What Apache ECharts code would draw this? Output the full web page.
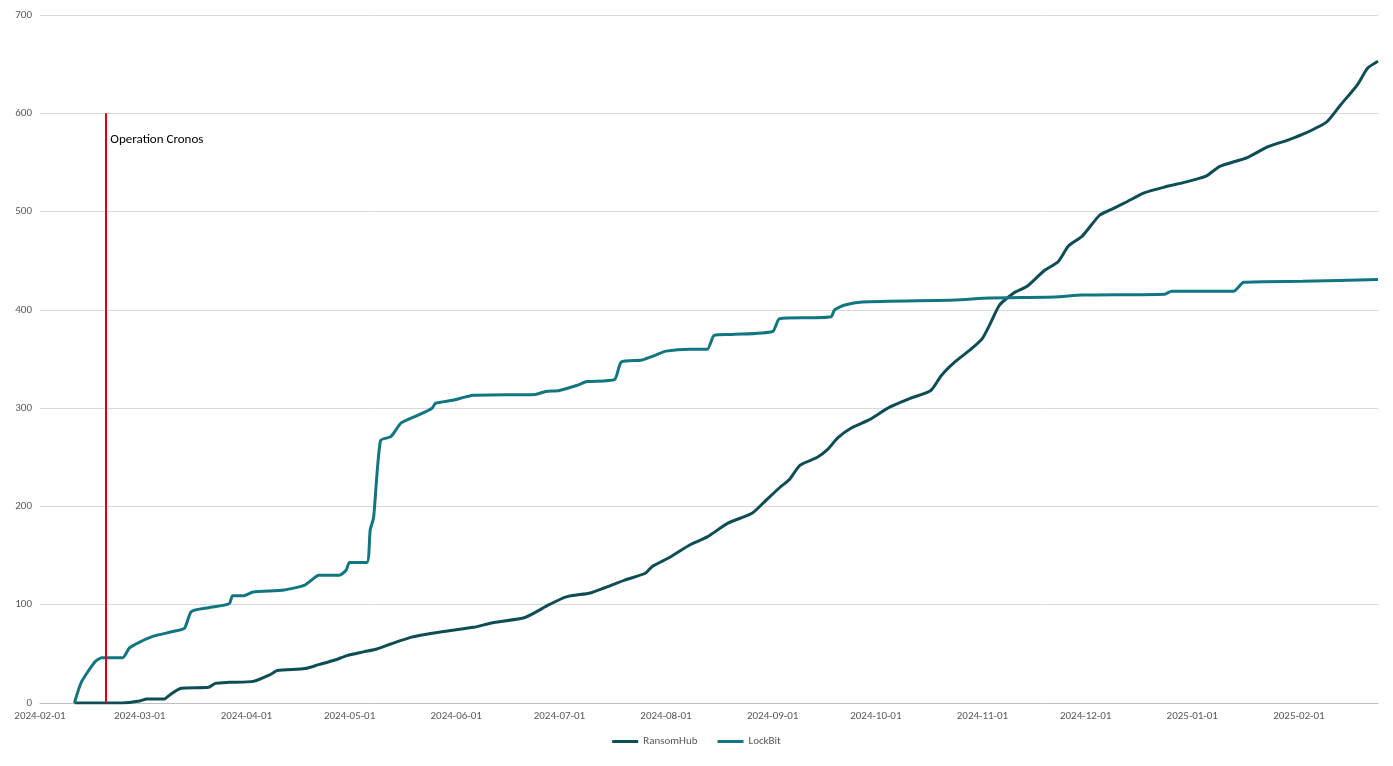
<!DOCTYPE html>
<html>
<head>
<meta charset="utf-8">
<script src="https://cdn.jsdelivr.net/npm/echarts@6/dist/echarts.min.js"></script>
<style>html,body{margin:0;padding:0;background:#fff}#chart{width:1393px;height:766px}</style>
</head>
<body>
<div id="chart"></div>
<script>
// cumulative victim counts
const ransomHubDates = ['2024-02-11','2024-02-25','2024-03-01','2024-03-03','2024-03-08','2024-03-10','2024-03-13','2024-03-21','2024-03-23','2024-03-27','2024-04-03','2024-04-08','2024-04-10','2024-04-18','2024-04-22','2024-04-27','2024-04-30','2024-05-05','2024-05-09','2024-05-13','2024-05-19','2024-05-25','2024-05-31','2024-06-06','2024-06-12','2024-06-21','2024-06-28','2024-07-03','2024-07-10','2024-07-14','2024-07-20','2024-07-26','2024-07-28','2024-08-02','2024-08-08','2024-08-13','2024-08-19','2024-08-26','2024-08-30','2024-09-03','2024-09-06','2024-09-09','2024-09-14','2024-09-17','2024-09-20','2024-09-24','2024-09-29','2024-10-05','2024-10-11','2024-10-17','2024-10-20','2024-10-24','2024-10-29','2024-11-01','2024-11-03','2024-11-06','2024-11-10','2024-11-14','2024-11-19','2024-11-23','2024-11-26','2024-11-30','2024-12-05','2024-12-09','2024-12-13','2024-12-18','2024-12-24','2024-12-30','2025-01-05','2025-01-09','2025-01-17','2025-01-23','2025-01-29','2025-02-03','2025-02-09','2025-02-13','2025-02-18','2025-02-21','2025-02-24'];
const ransomHubValues = [0,0,2,4,4,9,15,16,20,21,22,29,33,35,39,44,48,52,55,60,67,71,74,77,82,87,100,108,112,117,125,132,139,148,161,169,183,193,206,219,228,242,250,258,270,280,288,301,310,318,333,347,361,371,384,405,417,424,440,449,465,475,496,503,510,519,525,530,536,546,555,566,573,580,591,608,629,646,653];

const lockBitDates = ['2024-02-11','2024-02-13','2024-02-17','2024-02-19','2024-02-25','2024-02-27','2024-03-01','2024-03-05','2024-03-11','2024-03-14','2024-03-16','2024-03-21','2024-03-27','2024-03-28','2024-03-31','2024-04-03','2024-04-12','2024-04-18','2024-04-21','2024-04-22','2024-04-28','2024-04-30','2024-05-01','2024-05-06','2024-05-07','2024-05-08','2024-05-10','2024-05-13','2024-05-16','2024-05-21','2024-05-25','2024-05-26','2024-05-31','2024-06-06','2024-06-24','2024-06-27','2024-07-01','2024-07-06','2024-07-09','2024-07-17','2024-07-19','2024-07-25','2024-07-29','2024-08-01','2024-08-08','2024-08-13','2024-08-15','2024-08-20','2024-09-01','2024-09-03','2024-09-12','2024-09-18','2024-09-19','2024-09-22','2024-09-27','2024-10-24','2024-11-03','2024-11-22','2024-11-30','2024-12-24','2024-12-26','2025-01-13','2025-01-16','2025-02-02','2025-02-24'];
const lockBitValues = [0,21,42,46,46,56,62,68,73,76,93,97,101,109,109,113,115,120,128,130,130,135,143,143,176,189,267,271,285,293,300,305,308,313,314,317,318,323,327,329,347,349,354,358,360,360,374,375,378,391,392,393,400,405,408,410,412,413,415,416,419,419,428,429,431];

const cronosDate = '2024-02-20';
const cronosTop = 600;
const yTicks = [0, 100, 200, 300, 400, 500, 600, 700];

const zip = (d, v) => d.map((x, i) => [x, v[i]]);
const chart = echarts.init(document.getElementById('chart'));
const axisText = { color: '#595959', fontSize: 11, fontFamily: 'Calibri, Carlito, "Liberation Sans", sans-serif' };

chart.setOption({
  animation: false,
  grid: { left: 40, right: 15, top: 15, bottom: 63 },
  legend: {
    bottom: 14, itemWidth: 26, itemHeight: 3, icon: 'rect', itemGap: 20,
    textStyle: axisText,
    data: ['RansomHub', 'LockBit']
  },
  xAxis: {
    type: 'time', min: '2024-02-01', max: '2025-02-24',
    minInterval: 28 * 864e5, maxInterval: 31 * 864e5,
    axisLine: { lineStyle: { color: '#bfbfbf' } },
    axisTick: { show: false },
    splitLine: { show: false },
    axisLabel: { ...axisText, formatter: '{yyyy}-{MM}-{dd}', hideOverlap: false }
  },
  yAxis: {
    type: 'value', min: yTicks[0], max: yTicks[yTicks.length - 1], interval: 100,
    axisLine: { show: false }, axisTick: { show: false },
    axisLabel: axisText,
    splitLine: { lineStyle: { color: '#d9d9d9' } }
  },
  series: [
    {
      name: 'RansomHub', type: 'line', showSymbol: false, smooth: 0.2,
      color: '#0e4d55', lineStyle: { width: 3 },
      data: zip(ransomHubDates, ransomHubValues)
    },
    {
      name: 'LockBit', type: 'line', showSymbol: false, smooth: 0.2,
      color: '#127680', lineStyle: { width: 3 },
      data: zip(lockBitDates, lockBitValues),
      markLine: {
        symbol: 'none', silent: true,
        lineStyle: { color: '#e00000', width: 2, type: 'solid' },
        label: { show: false },
        data: [[{ coord: [cronosDate, 0] }, { coord: [cronosDate, cronosTop] }]]
      }
    }
  ]
});

// annotation text next to the marker line
const p = chart.convertToPixel({ gridIndex: 0 }, [cronosDate, cronosTop]);
chart.setOption({
  graphic: [{
    type: 'text', left: p[0] + 5, top: p[1] + 20,
    style: { text: 'Operation Cronos', fill: '#000', fontSize: 13, fontFamily: 'Calibri, Carlito, "Liberation Sans", sans-serif' }
  }]
});
window.addEventListener('resize', () => chart.resize());
</script>
</body>
</html>
